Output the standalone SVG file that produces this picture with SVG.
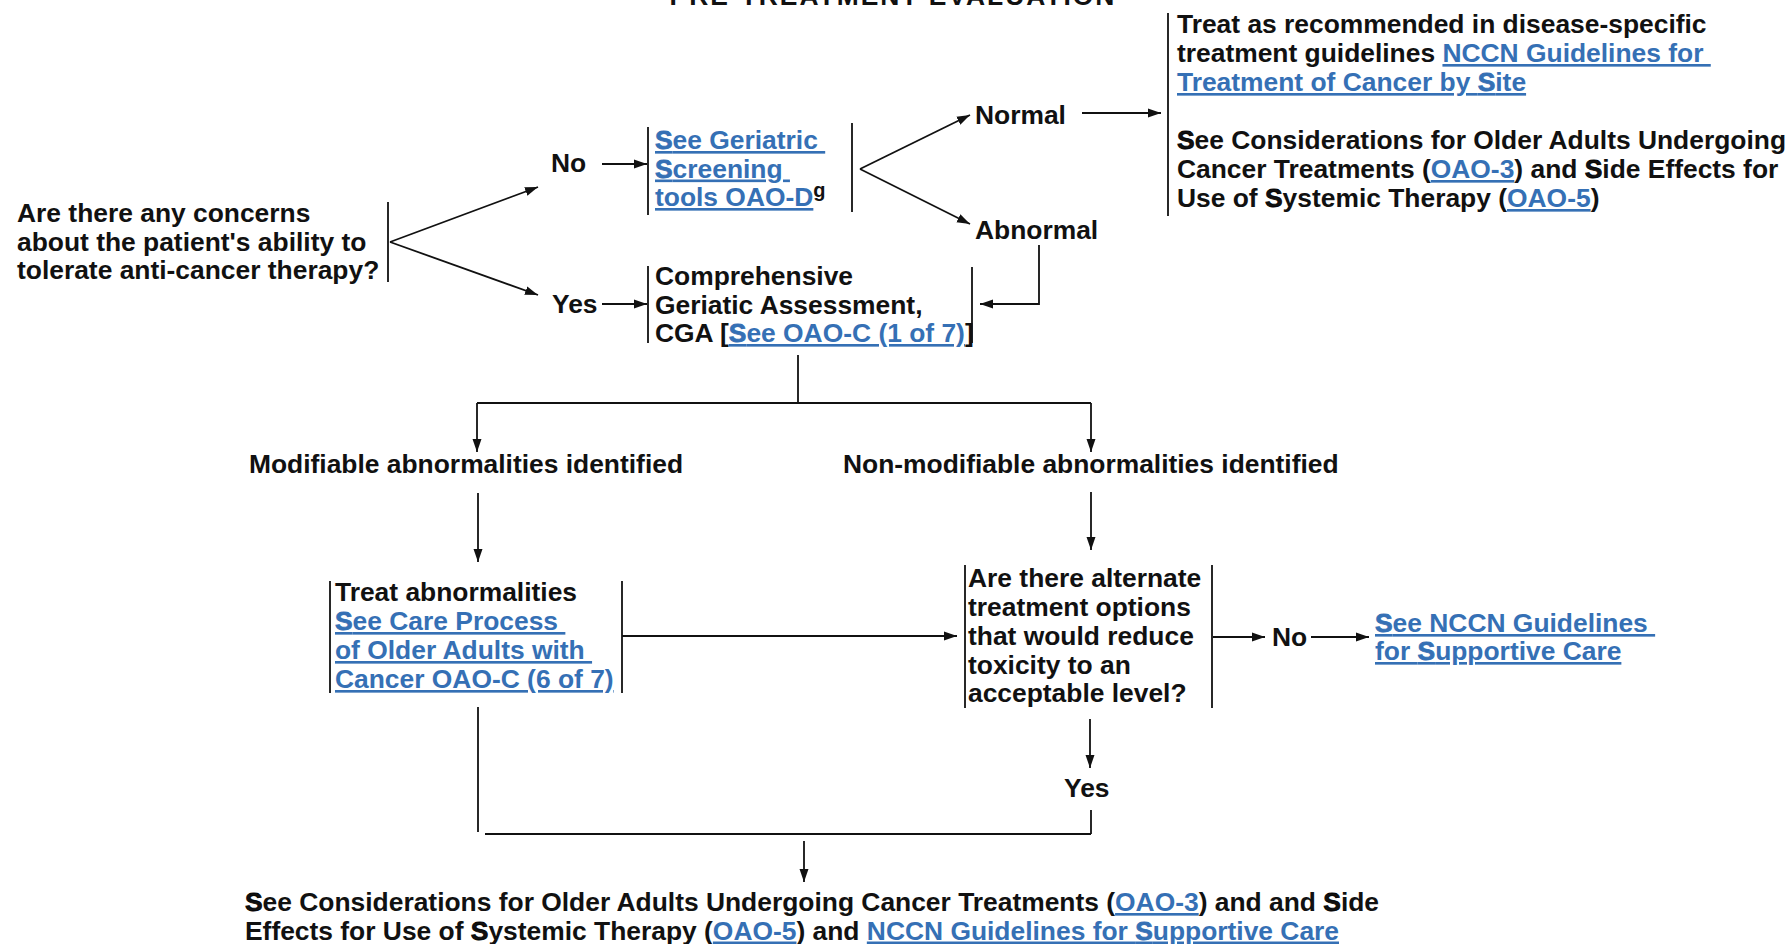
<svg xmlns="http://www.w3.org/2000/svg" width="1792" height="944" viewBox="0 0 1792 944">
<style>
text{font-family:"Liberation Sans",Arial,sans-serif;font-weight:bold;font-size:26.4px;fill:#111}
.lk{fill:#3570b5;text-decoration:underline}
.bs{stroke:currentColor;stroke-width:0.8}
.lkS{fill:#3570b5;stroke:#3570b5;stroke-width:0.8}
.bar{stroke:#111;stroke-width:1.8;fill:none}
.cn{stroke:#111;stroke-width:1.8;fill:none}
.ttl{font-size:26.4px;letter-spacing:2px}
.sup{font-size:20px}
</style>
<defs>
<marker id="ah" markerUnits="userSpaceOnUse" markerWidth="14" markerHeight="10" refX="13" refY="5" orient="auto">
<path d="M0,0.5 L13,5 L0,9.5 Z" fill="#111"/>
</marker>
</defs>

<text class="ttl" x="893" y="5" text-anchor="middle">PRE-TREATMENT EVALUATION</text>

<g id="question">
<text x="17" y="222">Are there any concerns</text>
<text x="17" y="250.5">about the patient's ability to</text>
<text x="17" y="279">tolerate anti-cancer therapy?</text>
<line class="bar" x1="388" y1="202" x2="388" y2="282"/>
</g>

<g id="no1"><text x="551" y="172">No</text></g>
<g id="yes1"><text x="552" y="313">Yes</text></g>

<g id="screening">
<line class="bar" x1="648" y1="127" x2="648" y2="215"/>
<line class="bar" x1="852" y1="123" x2="852" y2="212"/>
<text x="655" y="149" xml:space="preserve" class="lk"><tspan class="lkS">S</tspan>ee Geriatric </text>
<text x="655" y="177.5" xml:space="preserve" class="lk"><tspan class="lkS">S</tspan>creening </text>
<text x="655" y="206"><tspan class="lk">tools OAO-D</tspan><tspan class="sup" dy="-9">g</tspan></text>
</g>

<g id="normal"><text x="975" y="124">Normal</text></g>
<g id="abnormal"><text x="975" y="239">Abnormal</text></g>

<g id="treat-site">
<line class="bar" x1="1168" y1="13" x2="1168" y2="216"/>
<text x="1177" y="33">Treat as recommended in disease-specific</text>
<text x="1177" y="62" xml:space="preserve">treatment guidelines <tspan class="lk">NCCN Guidelines for </tspan></text>
<text x="1177" y="91" class="lk">Treatment of Cancer by <tspan class="lkS">S</tspan>ite</text>
<text x="1177" y="149"><tspan class="bs">S</tspan>ee Considerations for Older Adults Undergoing</text>
<text x="1177" y="178">Cancer Treatments (<tspan class="lk">OAO-3</tspan>) and <tspan class="bs">S</tspan>ide Effects for</text>
<text x="1177" y="207">Use of <tspan class="bs">S</tspan>ystemic Therapy (<tspan class="lk">OAO-5</tspan>)</text>
</g>

<g id="cga">
<line class="bar" x1="648" y1="266" x2="648" y2="343"/>
<line class="bar" x1="972" y1="267" x2="972" y2="343"/>
<text x="655" y="285">Comprehensive</text>
<text x="655" y="313.5">Geriatic Assessment,</text>
<text x="655" y="342">CGA [<tspan class="lk"><tspan class="lkS">S</tspan>ee OAO-C (1 of 7)</tspan>]</text>
</g>

<g id="modifiable"><text x="249" y="473">Modifiable abnormalities identified</text></g>
<g id="nonmodifiable"><text x="843" y="473">Non-modifiable abnormalities identified</text></g>

<g id="treat-abn">
<line class="bar" x1="330" y1="581" x2="330" y2="693"/>
<line class="bar" x1="622" y1="581" x2="622" y2="693"/>
<text x="335" y="601">Treat abnormalities</text>
<text x="335" y="630" xml:space="preserve" class="lk"><tspan class="lkS">S</tspan>ee Care Process </text>
<text x="335" y="659" xml:space="preserve" class="lk">of Older Adults with </text>
<text x="335" y="688" class="lk">Cancer OAO-C (6 of 7)</text>
</g>

<g id="alternate">
<line class="bar" x1="965" y1="565" x2="965" y2="708"/>
<line class="bar" x1="1212" y1="565" x2="1212" y2="708"/>
<text x="968" y="587">Are there alternate</text>
<text x="968" y="616">treatment options</text>
<text x="968" y="645">that would reduce</text>
<text x="968" y="674">toxicity to an</text>
<text x="968" y="702">acceptable level?</text>
</g>

<g id="no2"><text x="1272" y="646">No</text></g>

<g id="supportive">
<text x="1375" y="632" xml:space="preserve" class="lk"><tspan class="lkS">S</tspan>ee NCCN Guidelines </text>
<text x="1375" y="660" class="lk">for <tspan class="lkS">S</tspan>upportive Care</text>
</g>

<g id="yes2"><text x="1064" y="797">Yes</text></g>

<g id="final">
<text x="245" y="911"><tspan class="bs">S</tspan>ee Considerations for Older Adults Undergoing Cancer Treatments (<tspan class="lk">OAO-3</tspan>) and and <tspan class="bs">S</tspan>ide</text>
<text x="245" y="939.5">Effects for Use of <tspan class="bs">S</tspan>ystemic Therapy (<tspan class="lk">OAO-5</tspan>) and <tspan class="lk">NCCN Guidelines for <tspan class="lkS">S</tspan>upportive Care</tspan></text>
</g>

<g id="connectors">
<line class="cn" x1="390" y1="242" x2="538" y2="187" marker-end="url(#ah)"/>
<line class="cn" x1="390" y1="242" x2="538" y2="295" marker-end="url(#ah)"/>
<line class="cn" x1="602" y1="164" x2="647" y2="164" marker-end="url(#ah)"/>
<line class="cn" x1="602" y1="304" x2="647" y2="304" marker-end="url(#ah)"/>
<line class="cn" x1="860" y1="169" x2="970" y2="115" marker-end="url(#ah)"/>
<line class="cn" x1="860" y1="169" x2="970" y2="224" marker-end="url(#ah)"/>
<line class="cn" x1="1082" y1="113" x2="1161" y2="113" marker-end="url(#ah)"/>
<polyline class="cn" points="1039,245 1039,304 980,304" marker-end="url(#ah)"/>
<line class="cn" x1="798" y1="355" x2="798" y2="403"/>
<line class="cn" x1="477" y1="403" x2="1091" y2="403"/>
<line class="cn" x1="477" y1="403" x2="477" y2="452" marker-end="url(#ah)"/>
<line class="cn" x1="1091" y1="403" x2="1091" y2="452" marker-end="url(#ah)"/>
<line class="cn" x1="478" y1="493" x2="478" y2="562" marker-end="url(#ah)"/>
<line class="cn" x1="1091" y1="492" x2="1091" y2="550" marker-end="url(#ah)"/>
<line class="cn" x1="622" y1="636" x2="957" y2="636" marker-end="url(#ah)"/>
<line class="cn" x1="1213" y1="637" x2="1265" y2="637" marker-end="url(#ah)"/>
<line class="cn" x1="1311" y1="637" x2="1369" y2="637" marker-end="url(#ah)"/>
<line class="cn" x1="1090" y1="719" x2="1090" y2="768" marker-end="url(#ah)"/>
<line class="cn" x1="1091" y1="810" x2="1091" y2="834"/>
<line class="cn" x1="478" y1="707" x2="478" y2="832"/>
<line class="cn" x1="485" y1="834" x2="1091" y2="834"/>
<line class="cn" x1="804" y1="841" x2="804" y2="882" marker-end="url(#ah)"/>
</g>
</svg>
